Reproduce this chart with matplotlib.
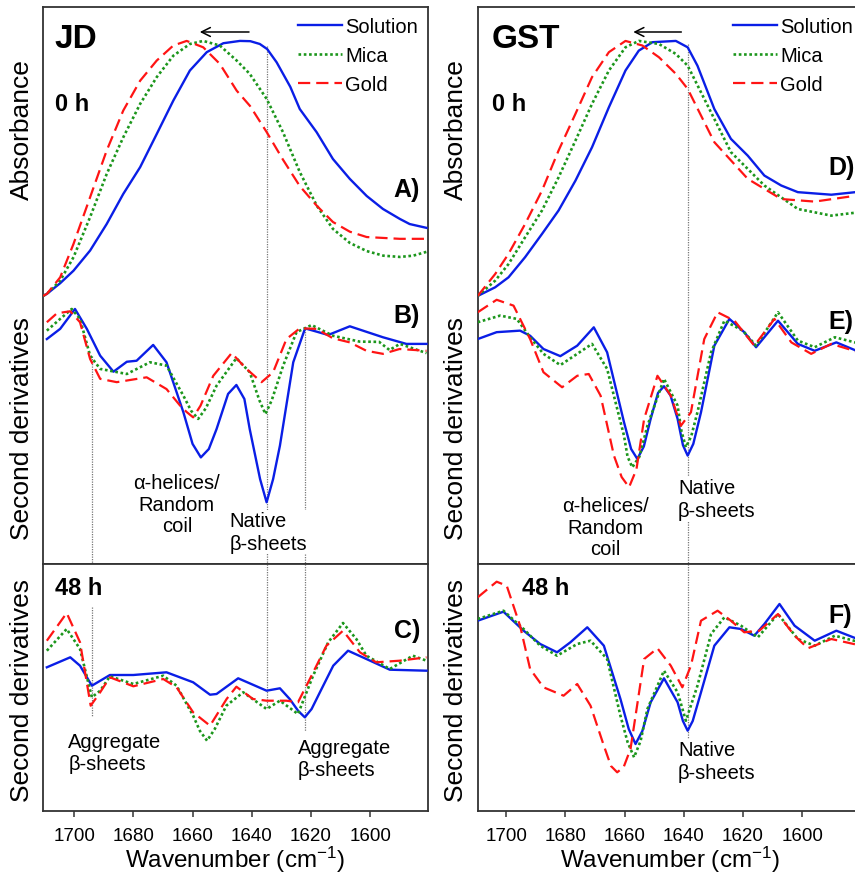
import matplotlib.pyplot as plt

plt.rcParams['font.family'] = ['Liberation Sans', 'DejaVu Sans']
plt.rcParams['mathtext.fontset'] = 'custom'
plt.rcParams['mathtext.rm'] = 'Liberation Sans'
plt.rcParams['mathtext.default'] = 'regular'

series_names = ['Solution', 'Mica', 'Gold']
xticks = [1700, 1680, 1660, 1640, 1620, 1600]

# ---------------- JD, 0 h : absorbance (normalised) ----------------
jd_abs_sol_wn = [1710.5, 1709.2, 1704.7, 1700.2, 1694.6, 1689, 1683.4, 1677.7, 1672.1, 1666.5, 1660.9, 1655.2, 1649.6, 1644, 1640.5, 1637.3, 1634.8, 1631.6, 1627, 1623.8, 1618.1, 1612.6, 1606.9, 1601.2, 1595.7, 1590, 1586.7, 1581]
jd_abs_sol = [0.0, 0.008, 0.05, 0.099, 0.178, 0.282, 0.4, 0.505, 0.635, 0.766, 0.884, 0.956, 0.991, 1.0, 0.999, 0.988, 0.968, 0.916, 0.82, 0.733, 0.642, 0.537, 0.459, 0.392, 0.341, 0.302, 0.282, 0.267]
jd_abs_mica_wn = [1710.5, 1709.2, 1704.7, 1700.2, 1694.6, 1689, 1683.4, 1677.7, 1672.1, 1666.5, 1660.9, 1656.4, 1650.8, 1645.1, 1640.7, 1635, 1629.5, 1623.8, 1618, 1612.6, 1606.9, 1601.2, 1595.6, 1590, 1585.5, 1581]
jd_abs_mica = [0.0, 0.008, 0.06, 0.152, 0.309, 0.478, 0.622, 0.753, 0.858, 0.942, 0.988, 1.0, 0.982, 0.923, 0.871, 0.773, 0.643, 0.486, 0.353, 0.263, 0.208, 0.176, 0.158, 0.153, 0.158, 0.173]
jd_abs_gold_wn = [1710.5, 1709.2, 1704.7, 1700.2, 1694.6, 1689, 1683.4, 1677.7, 1672.1, 1666.5, 1662, 1656.4, 1650.8, 1645.1, 1640.6, 1635, 1629.5, 1623.8, 1618, 1612.6, 1606.9, 1601.2, 1590, 1581]
jd_abs_gold = [0.0, 0.008, 0.073, 0.204, 0.387, 0.57, 0.727, 0.844, 0.923, 0.982, 1.0, 0.975, 0.91, 0.805, 0.745, 0.643, 0.535, 0.431, 0.353, 0.29, 0.252, 0.231, 0.224, 0.224]

# ---------------- JD, 0 h : second derivatives ----------------
jd_d2_sol_wn = [1709.2, 1704.7, 1699.7, 1695.7, 1691.2, 1686.7, 1682.2, 1678.9, 1673.3, 1668.8, 1663.1, 1660, 1657.2, 1654.5, 1651.9, 1648, 1645.2, 1642.5, 1640.7, 1637.2, 1635, 1632.8, 1630.5, 1626, 1622, 1614.2, 1606.9, 1595.7, 1587.8, 1581]
jd_d2_sol = [-0.169, -0.129, -0.051, -0.129, -0.234, -0.297, -0.258, -0.254, -0.192, -0.26, -0.456, -0.58, -0.633, -0.6, -0.522, -0.384, -0.349, -0.404, -0.522, -0.718, -0.809, -0.718, -0.587, -0.26, -0.127, -0.153, -0.119, -0.162, -0.188, -0.188]
jd_d2_mica_wn = [1709.2, 1704.7, 1700.8, 1698, 1694.6, 1691.2, 1682.2, 1674.4, 1668.8, 1663.1, 1660.5, 1658.1, 1655.5, 1651.9, 1645.2, 1640.7, 1637.4, 1635.4, 1633.3, 1629.4, 1624.9, 1619.8, 1612.6, 1603.6, 1597, 1593.5, 1590, 1581]
jd_d2_mica = [-0.136, -0.09, -0.051, -0.09, -0.234, -0.286, -0.306, -0.26, -0.273, -0.391, -0.45, -0.482, -0.44, -0.352, -0.244, -0.299, -0.41, -0.463, -0.41, -0.273, -0.142, -0.114, -0.156, -0.179, -0.18, -0.212, -0.188, -0.224]
jd_d2_gold_wn = [1709.2, 1705.8, 1701.3, 1698, 1694.6, 1691.2, 1685.6, 1675.5, 1668.8, 1664.2, 1662, 1659.8, 1657.3, 1653, 1646.8, 1641.8, 1636.7, 1632.8, 1628.3, 1623.8, 1618.1, 1612.6, 1606.9, 1601.3, 1595.7, 1590.1, 1581]
jd_d2_gold = [-0.103, -0.068, -0.06, -0.103, -0.247, -0.325, -0.338, -0.319, -0.365, -0.43, -0.455, -0.476, -0.43, -0.313, -0.224, -0.286, -0.338, -0.299, -0.169, -0.127, -0.129, -0.166, -0.182, -0.215, -0.227, -0.208, -0.215]

# ---------------- JD, 48 h : second derivatives ----------------
jd_48_sol_wn = [1709.2, 1701.3, 1698, 1694, 1687.9, 1680, 1668.8, 1659.8, 1654.1, 1651.9, 1644.6, 1635, 1630.5, 1627.2, 1624.3, 1622.1, 1619.8, 1617, 1612.5, 1607.5, 1601.3, 1593.4, 1581]
jd_48_sol = [1.437, 1.537, 1.453, 1.253, 1.36, 1.36, 1.387, 1.287, 1.163, 1.17, 1.327, 1.203, 1.227, 1.12, 1.0, 0.937, 1.02, 1.187, 1.453, 1.603, 1.52, 1.413, 1.403]
jd_48_mica_wn = [1709.2, 1702.5, 1698, 1694, 1691.2, 1687.9, 1680, 1669.9, 1665.4, 1659.8, 1657.5, 1655.1, 1652.5, 1648.6, 1642.9, 1635, 1630.5, 1624.4, 1619.3, 1614.2, 1609.2, 1604.7, 1601.3, 1593.4, 1585.6, 1581]
jd_48_mica = [1.603, 1.82, 1.62, 1.137, 1.203, 1.347, 1.27, 1.353, 1.253, 0.953, 0.8, 0.703, 0.82, 1.053, 1.187, 1.02, 1.103, 0.97, 1.353, 1.687, 1.88, 1.72, 1.553, 1.42, 1.553, 1.503]
jd_48_gold_wn = [1709.2, 1702.5, 1698, 1694.4, 1691.2, 1687.9, 1680, 1669.9, 1665.4, 1659.8, 1654.1, 1648.5, 1645.2, 1639.6, 1635, 1628.3, 1624.4, 1620.4, 1614.8, 1609.2, 1603.5, 1598, 1590.1, 1581]
jd_48_gold = [1.703, 1.98, 1.687, 1.053, 1.187, 1.337, 1.247, 1.32, 1.237, 0.987, 0.853, 1.12, 1.243, 1.12, 1.103, 1.103, 1.087, 1.32, 1.653, 1.803, 1.587, 1.487, 1.503, 1.537]

# ---------------- GST, 0 h : absorbance (normalised) ----------------
gst_abs_sol_wn = [1709.6, 1703.7, 1699.2, 1693.6, 1687.9, 1682.3, 1676.6, 1671, 1665.3, 1659.7, 1655.2, 1650.6, 1642.7, 1638.7, 1635.4, 1629.7, 1624.1, 1618.4, 1612.8, 1607.1, 1601.5, 1590.2, 1579.6]
gst_abs_sol = [0.0, 0.034, 0.073, 0.152, 0.243, 0.335, 0.452, 0.583, 0.74, 0.884, 0.962, 0.995, 1.0, 0.975, 0.903, 0.733, 0.616, 0.55, 0.472, 0.433, 0.407, 0.397, 0.41]
gst_abs_mica_wn = [1709.6, 1703.7, 1699.2, 1693.6, 1687.9, 1682.3, 1676.6, 1671, 1665.3, 1659.7, 1655.2, 1648.4, 1642.7, 1638.7, 1633.1, 1624.1, 1612.8, 1601.5, 1590.2, 1579.6]
gst_abs_mica = [0.0, 0.06, 0.125, 0.23, 0.335, 0.465, 0.609, 0.753, 0.884, 0.975, 1.0, 0.988, 0.949, 0.903, 0.773, 0.564, 0.433, 0.341, 0.315, 0.33]
gst_abs_gold_wn = [1709.6, 1703.7, 1699.2, 1693.6, 1687.9, 1682.3, 1676.6, 1671, 1665.3, 1659.7, 1654, 1648.4, 1642.7, 1638.7, 1629.7, 1618.4, 1607.1, 1595.8, 1579.6]
gst_abs_gold = [0.0, 0.086, 0.165, 0.282, 0.413, 0.57, 0.714, 0.858, 0.956, 1.0, 0.982, 0.936, 0.871, 0.812, 0.603, 0.459, 0.38, 0.37, 0.397]

# ---------------- GST, 0 h : second derivatives ----------------
gst_d2_sol_wn = [1709.6, 1703.2, 1695.3, 1691.9, 1687.4, 1681.7, 1676, 1670.4, 1665.9, 1660.2, 1657.8, 1655.7, 1653.5, 1651.2, 1648.7, 1646.7, 1644.5, 1642.1, 1640.3, 1638.7, 1636.8, 1634.2, 1629.7, 1624.6, 1619.6, 1615.6, 1608.2, 1601.5, 1595.8, 1588.5, 1579.6]
gst_d2_sol = [-0.169, -0.142, -0.136, -0.156, -0.208, -0.236, -0.195, -0.123, -0.221, -0.495, -0.6, -0.639, -0.59, -0.482, -0.38, -0.354, -0.39, -0.482, -0.585, -0.626, -0.58, -0.456, -0.195, -0.09, -0.142, -0.201, -0.097, -0.188, -0.215, -0.182, -0.225]
gst_d2_mica_wn = [1709.6, 1702, 1696.4, 1691.9, 1687.4, 1681.7, 1676, 1671, 1665.9, 1660.2, 1659, 1657.4, 1655, 1652.3, 1646.7, 1642.1, 1640.8, 1639.3, 1637.5, 1635.4, 1630.8, 1626.3, 1620.1, 1615.6, 1608.2, 1601.5, 1595.8, 1589, 1579.6]
gst_d2_mica = [-0.103, -0.077, -0.09, -0.162, -0.227, -0.271, -0.227, -0.188, -0.286, -0.548, -0.63, -0.672, -0.63, -0.509, -0.325, -0.43, -0.53, -0.593, -0.55, -0.456, -0.221, -0.097, -0.136, -0.195, -0.064, -0.175, -0.201, -0.162, -0.19]
gst_d2_gold_wn = [1709.6, 1703.2, 1697.5, 1691.9, 1687.4, 1681.1, 1676, 1672.1, 1668.1, 1663.6, 1661, 1658.5, 1656, 1653.4, 1648.9, 1644.4, 1641, 1637.6, 1633.1, 1628.6, 1622.9, 1616.2, 1609.4, 1603.7, 1597, 1590.2, 1579.6]
gst_d2_gold = [-0.064, -0.015, -0.038, -0.169, -0.299, -0.358, -0.313, -0.306, -0.391, -0.626, -0.71, -0.75, -0.68, -0.482, -0.313, -0.391, -0.509, -0.456, -0.169, -0.064, -0.097, -0.195, -0.09, -0.182, -0.227, -0.188, -0.225]

# ---------------- GST, 48 h : second derivatives ----------------
gst_48_sol_wn = [1709.6, 1700.9, 1694.1, 1688.5, 1682.8, 1678.3, 1672.6, 1667, 1661.4, 1658.6, 1656.3, 1654, 1651.2, 1646.7, 1642.1, 1640.3, 1638.7, 1637, 1634.2, 1629.7, 1624.6, 1620.7, 1616.2, 1612.8, 1607.7, 1602.6, 1595.8, 1588.5, 1579.6]
gst_48_sol = [1.903, 1.993, 1.803, 1.67, 1.587, 1.687, 1.837, 1.653, 1.12, 0.82, 0.67, 0.8, 1.087, 1.327, 1.087, 0.9, 0.803, 0.9, 1.187, 1.653, 1.837, 1.82, 1.753, 1.87, 2.07, 1.853, 1.703, 1.803, 1.7]
gst_48_mica_wn = [1709.6, 1700.9, 1694.1, 1688.5, 1682.8, 1676, 1671.5, 1665.9, 1661.4, 1659, 1656.8, 1654.6, 1652.3, 1646.7, 1642.1, 1639.3, 1635.4, 1630.8, 1626.3, 1620.7, 1615, 1608.2, 1601.5, 1595.8, 1589, 1579.6]
gst_48_mica = [1.92, 2.003, 1.82, 1.653, 1.553, 1.67, 1.703, 1.52, 0.953, 0.69, 0.537, 0.7, 1.02, 1.403, 1.187, 0.903, 1.253, 1.77, 1.937, 1.853, 1.737, 1.97, 1.72, 1.653, 1.753, 1.68]
gst_48_gold_wn = [1709.6, 1703.2, 1699.8, 1695.3, 1691.9, 1687.4, 1680.6, 1676, 1671.5, 1667, 1664.6, 1662.5, 1660.3, 1658, 1653.4, 1648.9, 1644.4, 1640.5, 1637.6, 1634.2, 1628.6, 1624.1, 1619.6, 1614.5, 1608.2, 1602.6, 1598.1, 1590.2, 1579.6]
gst_48_gold = [2.137, 2.293, 2.253, 1.853, 1.42, 1.237, 1.153, 1.27, 1.053, 0.653, 0.45, 0.387, 0.44, 0.62, 1.52, 1.627, 1.453, 1.237, 1.453, 1.903, 2.003, 1.903, 1.787, 1.803, 1.97, 1.753, 1.627, 1.72, 1.65]

styles = [
    dict(color='#0a1ee6', linestyle='-', linewidth=1.7),
    dict(color='#1c961c', linestyle=(0, (1, 1)), linewidth=1.9),
    dict(color='#ff1414', linestyle=(0, (5.5, 2.7)), linewidth=1.6),
]

W, H = 855, 879
fig = plt.figure(figsize=(W / 100, H / 100), dpi=100)


def add_ax(x0, y0, x1, y1):
    return fig.add_axes([x0 / W, 1 - y1 / H, (x1 - x0) / W, (y1 - y0) / H])


def style_ax(ax, xlim, ylim, bottom):
    ax.set_xlim(*xlim)
    ax.set_ylim(*ylim)
    ax.set_yticks([])
    for s in ax.spines.values():
        s.set_color('#333333')
        s.set_linewidth(1.3)
    if bottom:
        ax.set_xticks(xticks)
        ax.tick_params(axis='x', direction='out', length=4.5, width=1.1,
                       color='#333333', labelsize=13.5, pad=7)
        ax.set_xlabel('Wavenumber (cm$^{-1}$)', fontsize=17.5, labelpad=0)
    else:
        ax.set_xticks([])


def plot_set(ax, data, with_labels=False):
    for (wn, vals), st, name in zip(data, styles, series_names):
        ax.plot(wn, vals, label=name if with_labels else None, zorder=3, **st)


def vline(ax, x, y0, y1):
    ax.plot([x, x], [y0, y1], color='#777777', linewidth=0.9,
            linestyle=(0, (1, 1)), zorder=1, clip_on=False)


TOP_YLIM = (-1.051, 1.133)
BOT_YLIM = (0, 2.47)
white = dict(facecolor='white', edgecolor='none', pad=1)
note = dict(fontsize=14.5, zorder=2)

# ================= JD =================
jd_top = add_ax(43, 8, 428, 565)
jd_bot = add_ax(43, 565, 428, 812)
style_ax(jd_top, (1710.5, 1580.5), TOP_YLIM, False)
style_ax(jd_bot, (1710.5, 1580.5), BOT_YLIM, True)

plot_set(jd_top, [(jd_abs_sol_wn, jd_abs_sol), (jd_abs_mica_wn, jd_abs_mica), (jd_abs_gold_wn, jd_abs_gold)], True)
plot_set(jd_top, [(jd_d2_sol_wn, jd_d2_sol), (jd_d2_mica_wn, jd_d2_mica), (jd_d2_gold_wn, jd_d2_gold)])
plot_set(jd_bot, [(jd_48_sol_wn, jd_48_sol), (jd_48_mica_wn, jd_48_mica), (jd_48_gold_wn, jd_48_gold)])

vline(jd_top, 1635, 0.98, TOP_YLIM[0])
vline(jd_bot, 1635, BOT_YLIM[1], 1.02)
vline(jd_top, 1622, -0.13, TOP_YLIM[0])
vline(jd_bot, 1622, BOT_YLIM[1], 0.80)
vline(jd_top, 1694, -0.235, TOP_YLIM[0])
vline(jd_bot, 1694, 2.04, 0.95)

jd_top.annotate('', xy=(1658.5, 1.035), xytext=(1640, 1.035),
                arrowprops=dict(arrowstyle='->', color='black', lw=1.1, mutation_scale=16))
jd_top.text(0.031, 0.943, 'JD', transform=jd_top.transAxes, fontsize=24,
            fontweight='bold', va='center')
jd_top.text(0.031, 0.826, '0 h', transform=jd_top.transAxes, fontsize=17,
            fontweight='bold', va='center')
jd_top.text(0.979, 0.673, 'A)', transform=jd_top.transAxes, fontsize=18,
            fontweight='bold', va='center', ha='right')
jd_top.text(0.979, 0.447, 'B)', transform=jd_top.transAxes, fontsize=18,
            fontweight='bold', va='center', ha='right')
jd_top.text(1665.3, -0.816, 'α-helices/\nRandom\ncoil', ha='center', va='center',
            linespacing=1.15, **note)
jd_top.text(1647.4, -0.925, 'Native\nβ-sheets', ha='left', va='center',
            linespacing=1.25, bbox=white, **note)
jd_bot.text(0.031, 0.903, '48 h', transform=jd_bot.transAxes, fontsize=17,
            fontweight='bold', va='center')
jd_bot.text(0.979, 0.733, 'C)', transform=jd_bot.transAxes, fontsize=18,
            fontweight='bold', va='center', ha='right')
jd_bot.text(1702, 0.58, 'Aggregate\nβ-sheets', ha='left', va='center',
            linespacing=1.2, **note)
jd_bot.text(1624.4, 0.53, 'Aggregate\nβ-sheets', ha='left', va='center',
            linespacing=1.2, **note)

# ================= GST =================
gst_top = add_ax(477.7, 8, 862.7, 565)
gst_bot = add_ax(477.7, 565, 862.7, 812)
style_ax(gst_top, (1709.6, 1579.6), TOP_YLIM, False)
style_ax(gst_bot, (1709.6, 1579.6), BOT_YLIM, True)

plot_set(gst_top, [(gst_abs_sol_wn, gst_abs_sol), (gst_abs_mica_wn, gst_abs_mica), (gst_abs_gold_wn, gst_abs_gold)], True)
plot_set(gst_top, [(gst_d2_sol_wn, gst_d2_sol), (gst_d2_mica_wn, gst_d2_mica), (gst_d2_gold_wn, gst_d2_gold)])
plot_set(gst_bot, [(gst_48_sol_wn, gst_48_sol), (gst_48_mica_wn, gst_48_mica), (gst_48_gold_wn, gst_48_gold)])

vline(gst_top, 1638.75, 0.988, TOP_YLIM[0])
vline(gst_bot, 1638.75, BOT_YLIM[1], 0.72)

gst_top.annotate('', xy=(1658, 1.035), xytext=(1639.9, 1.035),
                 arrowprops=dict(arrowstyle='->', color='black', lw=1.1, mutation_scale=16))
gst_top.text(0.037, 0.944, 'GST', transform=gst_top.transAxes, fontsize=24,
             fontweight='bold', va='center')
gst_top.text(0.037, 0.826, '0 h', transform=gst_top.transAxes, fontsize=17,
             fontweight='bold', va='center')
gst_top.text(0.91, 0.713, 'D)', transform=gst_top.transAxes, fontsize=18,
             fontweight='bold', va='center', ha='left')
gst_top.text(0.91, 0.436, 'E)', transform=gst_top.transAxes, fontsize=18,
             fontweight='bold', va='center', ha='left')
gst_top.text(1666.4, -0.906, 'α-helices/\nRandom\ncoil', ha='center', va='center',
             linespacing=1.15, **note)
gst_top.text(1642, -0.796, 'Native\nβ-sheets', ha='left', va='center',
             linespacing=1.25, bbox=white, **note)
gst_bot.text(0.115, 0.903, '48 h', transform=gst_bot.transAxes, fontsize=17,
             fontweight='bold', va='center')
gst_bot.text(0.91, 0.794, 'F)', transform=gst_bot.transAxes, fontsize=18,
             fontweight='bold', va='center', ha='left')
gst_bot.text(1642, 0.5, 'Native\nβ-sheets', ha='left', va='center',
             linespacing=1.25, **note)

for ax in (jd_top, gst_top):
    ax.legend(loc='upper right', bbox_to_anchor=(1.0, 1.0), frameon=False,
              fontsize=14.5, handlelength=2.2, handletextpad=0.15,
              labelspacing=0.5, borderaxespad=0.3, borderpad=0.2)

# y labels
for x in (22, 456):
    fig.text(x / W, 1 - 130 / H, 'Absorbance', rotation=90, fontsize=19,
             ha='center', va='center')
    fig.text(x / W, 1 - 428 / H, 'Second derivatives', rotation=90, fontsize=19,
             ha='center', va='center')
    fig.text(x / W, 1 - 690 / H, 'Second derivatives', rotation=90, fontsize=19,
             ha='center', va='center')

fig.savefig('out.png', dpi=100)
